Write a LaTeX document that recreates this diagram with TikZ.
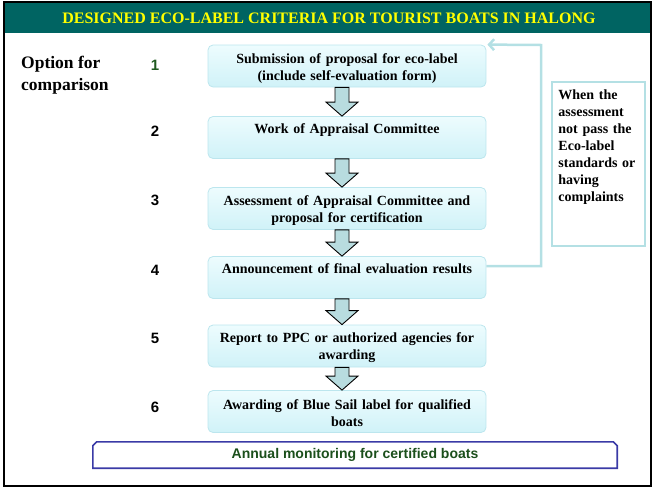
\documentclass[tikz,border=0pt]{standalone}
\usepackage{fontspec}
\setmainfont{Liberation Serif}
\setsansfont{Liberation Sans}
\usetikzlibrary{calc,arrows.meta}
\definecolor{band}{HTML}{006462}
\definecolor{ttl}{HTML}{FFFF00}
\definecolor{boxedge}{HTML}{BCE6EE}
\definecolor{boxtop}{HTML}{EDFCFE}
\definecolor{boxbot}{HTML}{D0F2F8}
\definecolor{arrfill}{HTML}{B8DCDF}
\definecolor{fbline}{HTML}{B4E0E4}
\definecolor{monedge}{HTML}{3A3AA6}
\definecolor{montext}{HTML}{1B4F1B}
\definecolor{numgreen}{HTML}{1F5A1F}
\newcommand{\blkarrow}[2]{%
  \draw[blockarrow] ($(#1.south)+(-12,0)$) -- ($(#2.north)+(-12,-14)$)
    -- ($(#2.north)+(-21,-14)$) -- ($(#2.north)+(-5,0)$)
    -- ($(#2.north)+(11,-14)$) -- ($(#2.north)+(2,-14)$)
    -- ($(#1.south)+(2,0)$) -- cycle;}
\begin{document}
\begin{tikzpicture}[x=1pt,y=-1pt,
  stepbox/.style={draw=boxedge, line width=0.8pt, rounded corners=5pt,
    top color=boxtop, bottom color=boxbot, minimum width=278pt,
    minimum height=42pt, text width=270pt, align=center, inner sep=0pt,
    font=\bfseries\fontsize{14}{17}\selectfont},
  blockarrow/.style={draw=black, line width=0.9pt, fill=arrfill, line join=miter},
  num/.style={font=\sffamily\bfseries\fontsize{15}{18}\selectfont, inner sep=0pt},
  fb/.style={draw=fbline, line width=2.5pt},
  notebox/.style={draw=fbline, line width=1.5pt, minimum width=93pt, minimum height=164pt, inner sep=0pt},
  notetext/.style={font=\bfseries\fontsize{14}{17}\selectfont, text width=79pt, align=left, inner sep=0pt}
]
\useasboundingbox (0,0) rectangle (653,488);
% title band and frame
\fill[band] (5,3) rectangle (650,33);
\draw[black, line width=2pt] (4,2) rectangle (651,486);
\node[font=\bfseries\fontsize{16}{19}\selectfont, text=ttl] (title) at (329,18)
  {DESIGNED ECO-LABEL CRITERIA FOR TOURIST BOATS IN HALONG};
% left labels
\node[anchor=west, align=left, inner sep=0pt, font=\bfseries\fontsize{17.5}{22}\selectfont] (opt) at (21,75) {Option for\\comparison};
\node[num, text=numgreen] (n1) at (155,65) {1};
\node[num] (n2) at (155,131) {2};
\node[num] (n3) at (155,200) {3};
\node[num] (n4) at (155,270) {4};
\node[num] (n5) at (155,338) {5};
\node[num] (n6) at (155,407) {6};
% step boxes
\node[stepbox] (b1) at (347,66) {\rule{0pt}{14pt}Submission of proposal for eco-label\\(include self-evaluation form)};
\node[stepbox] (b2) at (347,137.5) {\rule{0pt}{14pt}Work of Appraisal Committee\\\strut};
\node[stepbox] (b3) at (347,208.5) {\rule{0pt}{14pt}Assessment of Appraisal Committee and\\proposal for certification};
\node[stepbox] (b4) at (347,277.5) {\rule{0pt}{14pt}Announcement of final evaluation results\\\strut};
\node[stepbox] (b5) at (347,346) {\rule{0pt}{14pt}Report to PPC or authorized agencies for\\awarding};
\node[stepbox] (b6) at (347,411.5) {\rule{0pt}{14pt}Awarding of Blue Sail label for qualified\\boats};
% block arrows
\blkarrow{b1}{b2}
\blkarrow{b2}{b3}
\blkarrow{b3}{b4}
\blkarrow{b4}{b5}
\blkarrow{b5}{b6}
% feedback loop
\coordinate (fbc) at (541,45);
\draw[fb, -{Straight Barb[length=5pt,width=11pt]}] ($(b4.north east)+(0,10)$) -| (fbc) -- ($(b1.north east)+(1,0)$);
% note box
\node[notebox] (note) at (598.5,164) {};
\node[notetext, anchor=north west] (notetxt) at ($(note.north west)+(7,8)$)
  {\makebox[79pt][s]{When the}\\assessment\\\makebox[79pt][s]{not pass the}\\Eco-label\\\makebox[79pt][s]{standards or}\\having\\complaints};
% annual monitoring
\node[font=\sffamily\bfseries\fontsize{14}{17}\selectfont, text=montext, minimum width=524pt, minimum height=26pt, inner sep=0pt] (mon) at (355,455) {Annual monitoring for certified boats};
\draw[monedge, line width=1.6pt] (mon.south west) -- ($(mon.north west)+(0,4)$) -- ($(mon.north west)+(4,0)$)
  -- ($(mon.north east)+(-4,0)$) -- ($(mon.north east)+(0,4)$) -- (mon.south east) -- cycle;
\end{tikzpicture}
\end{document}
